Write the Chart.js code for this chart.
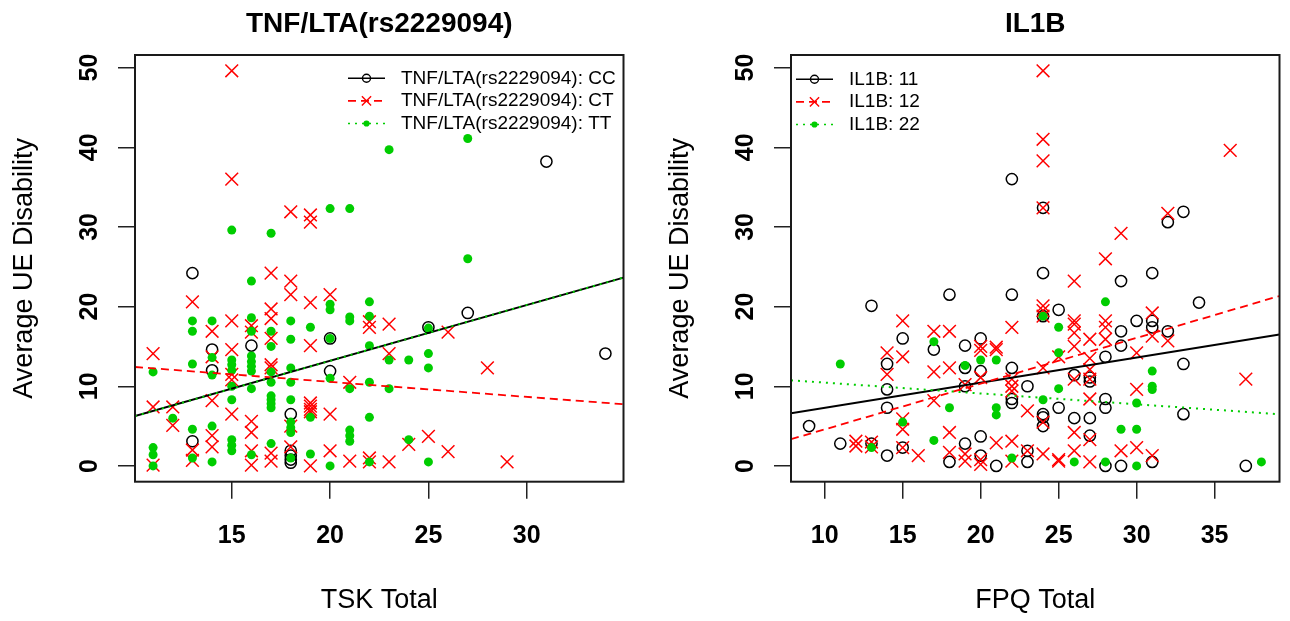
<!DOCTYPE html>
<html><head><meta charset="utf-8">
<script src="https://cdn.jsdelivr.net/npm/chart.js@4.4.0/dist/chart.umd.min.js"></script>
<style>
html,body{margin:0;padding:0;background:#fff;}
#wrap{position:relative;width:1290px;height:621px;overflow:hidden;background:#fff;}
canvas{position:absolute;top:0;}
</style></head><body>
<div id="wrap">
<canvas id="c1" width="634" height="621" style="left:0;width:634px;height:621px"></canvas>
<canvas id="c2" width="634" height="621" style="left:656px;width:634px;height:621px"></canvas>
</div>
<script>
// ---------- Left panel: TNF/LTA(rs2229094) ----------
const tskTitle = 'TNF/LTA(rs2229094)';
const tskXLabel = 'TSK Total';
const tskLegend = ['TNF/LTA(rs2229094): CC', 'TNF/LTA(rs2229094): CT', 'TNF/LTA(rs2229094): TT'];
const tskXRange = [10.08, 34.92];
const tskXTicks = [15, 20, 25, 30];

const tskCC_x = [13,13,14,14,16,18,18,18,18,18,20,20,25,27,31,34];
const tskCC_y = [24.2,3.1,14.6,12.0,15.1,6.5,1.9,1.3,0.8,0.4,16.0,11.9,17.4,19.2,38.2,14.1];

const tskCT_x = [11,11,11, 12,12, 13,13,13, 14,14,14,14,14, 15,15,15,15,15,15,15, 16,16,16,16,16,16,
  17,17,17,17,17,17,17,17, 18,18,18,18,18, 19,19,19,19,19,19,19,19,19, 20,20,20, 21,21, 22,22,22,22,
  23,23,23, 24, 25, 26,26, 28, 29];
const tskCT_y = [14.1,7.4,0.1, 7.4,5.1, 20.6,2.0,0.7, 16.9,13.7,8.2,3.8,2.4, 49.6,36.0,18.2,14.6,11.5,10.8,6.5,
  17.6,16.8,5.6,4.2,1.9,0.1, 24.2,19.7,18.5,16.0,12.7,12.3,1.6,0.6, 31.9,23.2,21.5,5.0,2.4,
  31.5,30.6,20.5,15.1,7.9,7.5,7.1,6.8,0.0, 21.5,6.5,1.9, 10.5,0.6, 18.1,17.4,1.0,0.5,
  17.8,14.1,0.5, 2.7, 3.7, 16.8,1.8, 12.3, 0.5];

const tskTT_x = [11,11,11,11, 12, 13,13,13,13,13, 14,14,14,14,14, 15,15,15,15,15,15,15,15,15,
  16,16,16,16,16,16,16,16,16, 17,17,17,17,17,17,17,17,17,17, 18,18,18,18,18,18,18,18,18,
  19,19,19, 20,20,20,20,20,20, 21,21,21,21,21,21,21, 22,22,22,22,22,22, 23,23,23, 24,24,
  25,25,25,25, 27,27];
const tskTT_y = [11.8,2.3,1.4,0.0, 6.0, 18.2,16.9,12.8,4.6,1.0, 18.2,13.6,11.4,5.0,0.5,
  29.6,13.3,12.7,12.0,10.0,8.3,3.3,2.6,1.9, 23.2,18.6,16.9,13.8,13.1,12.5,11.9,9.7,1.4,
  29.2,16.9,15.0,11.8,10.5,8.8,8.3,7.8,7.3,2.8, 18.2,15.9,12.3,10.5,8.3,5.5,4.8,4.2,1.0,
  17.4,6.1,1.5, 32.3,20.3,19.6,16.0,11.0,0.0, 32.3,18.7,18.2,9.7,4.5,3.8,3.1,
  20.6,18.8,15.1,10.5,6.1,0.5, 39.7,13.3,9.7, 13.3,3.3, 17.3,14.1,12.3,0.5, 41.1,26.0];

// fitted lines, read at the two plot edges
const tskFitX  = [10.08, 34.92];
const tskFitCC = [6.25, 23.64];
const tskFitCT = [12.42, 7.74];
const tskFitTT = [6.25, 23.64];

// ---------- Right panel: IL1B ----------
const ilbTitle = 'IL1B';
const ilbXLabel = 'FPQ Total';
const ilbLegend = ['IL1B: 11', 'IL1B: 12', 'IL1B: 22'];
const ilbXRange = [7.84, 39.16];
const ilbXTicks = [10, 15, 20, 25, 30, 35];

const ilb11_x = [9, 11, 13,13, 14,14,14,14, 15,15, 17, 18,18, 19,19,19,19, 20,20,20,20, 21,
  22,22,22,22,22, 23,23,23, 24,24,24,24,24,24, 25,25, 26,26, 27,27,27,27, 28,28,28,28,
  29,29,29,29, 30, 31,31,31,31, 32,32, 33,33,33, 34, 37];
const ilb11_y = [5.0, 2.8, 20.1,2.8, 12.8,9.6,7.3,1.3, 16.0,2.3, 14.6, 21.5,0.5, 15.1,12.3,10.0,2.8,
  16.0,11.9,3.7,1.3, 0.0, 36.0,21.5,12.3,8.4,7.9, 10.0,1.9,0.5, 32.4,24.2,18.8,6.5,6.1,5.0,
  19.6,7.3, 11.4,6.0, 11.1,10.6,6.0,3.8, 13.7,8.4,7.3,0.0, 23.2,16.9,15.1,0.0, 18.2,
  24.2,18.2,17.4,0.5, 30.6,16.9, 31.9,12.8,6.5, 20.5, 0.0];

const ilb12_x = [12,12, 13,13, 14,14, 15,15,15,15,15, 16, 17,17,17, 18,18,18,18, 19,19,19,
  20,20,20,20,20, 21,21,21, 22,22,22,22,22,22, 23,23, 24,24,24,24,24,24,24,24,24,24,
  25,25,25, 26,26,26,26,26,26,26,26, 27,27,27,27,27,27,27, 28,28,28,28, 29,29, 30,30,30,
  31,31,31, 32,32, 36, 37];
const ilb12_y = [3.1,2.5, 3.0,2.4, 14.2,11.5, 18.2,13.7,5.9,4.6,2.3, 1.3, 16.9,11.8,8.2,
  16.9,12.3,4.2,1.7, 10.2,1.5,0.6, 15.0,14.5,11.1,0.8,0.2, 14.9,14.6,2.9,
  17.4,10.9,10.0,9.4,3.1,0.6, 6.9,1.9, 49.6,41.0,38.3,32.4,20.1,19.5,18.8,12.3,5.5,1.5,
  13.7,0.8,0.6, 23.2,18.2,17.8,16.7,15.0,10.9,4.2,1.9, 15.9,13.5,12.1,10.9,8.4,3.3,0.5,
  26.0,18.2,17.4,15.9, 29.2,1.9, 14.2,9.6,2.3, 19.2,16.3,1.3, 31.7,15.7, 39.6, 10.9];

const ilb22_x = [11, 13, 15, 17,17, 18, 19, 20, 21,21,21, 22, 24,24, 25,25,25, 26, 28,28, 29,
  30,30,30, 31,31,31, 38];
const ilb22_y = [12.8, 2.3, 5.5, 15.6,3.2, 7.3, 12.6, 13.3, 13.3,7.3,6.4, 1.0, 18.8,8.3,
  17.4,14.2,9.7, 0.5, 20.6,0.5, 4.6, 7.9,4.6,0.0, 11.9,10.0,9.6, 0.5];

const ilbFitX  = [7.84, 39.16];
const ilbFit11 = [6.61, 16.49];
const ilbFit12 = [3.35, 21.33];
const ilbFit22 = [10.75, 6.49];

// ---------- shared y axis ----------
const yLabel = 'Average UE Disability';
const yRange = [-1.98, 51.58];
const yTicks = [0, 10, 20, 30, 40, 50];

// ---------- styling ----------
const FONT = '"Liberation Sans", Arial, Helvetica, sans-serif';
const BLACK = '#000000', RED = '#FF0000', GREEN = '#00CD00';
Chart.defaults.font.family = FONT;
Chart.defaults.color = '#000';

const pts = (xs, ys) => xs.map((x, i) => ({x: x, y: ys[i]}));

function pointSet(xs, ys, kind, order) {
  const base = {type: 'scatter', data: pts(xs, ys), order: order, showLine: false};
  if (kind === 'O') return Object.assign(base, {pointStyle: 'circle', pointRadius: 5.6,
    pointBorderColor: BLACK, pointBackgroundColor: 'rgba(0,0,0,0)', pointBorderWidth: 1.5});
  if (kind === 'X') return Object.assign(base, {pointStyle: 'crossRot', pointRadius: 9,
    pointBorderColor: RED, pointBackgroundColor: RED, pointBorderWidth: 1.5});
  return Object.assign(base, {pointStyle: 'circle', pointRadius: 4.5,
    pointBorderColor: GREEN, pointBackgroundColor: GREEN, pointBorderWidth: 0});
}
function lineSet(xs, ys, color, dash, width, order) {
  return {type: 'line', data: pts(xs, ys), order: order, borderColor: color, borderWidth: width,
    borderDash: dash, pointRadius: 0, fill: false, tension: 0, showLine: true};
}

const STY = [
  {color: BLACK, dash: [], width: 2, marker: 'O'},
  {color: RED, dash: [8, 5], width: 1.8, marker: 'X'},
  {color: GREEN, dash: [2, 5], width: 2, marker: 'dot'}
];

function drawMarker(ctx, kind, x, y, color) {
  ctx.save();
  ctx.setLineDash([]);
  if (kind === 'O') {
    ctx.strokeStyle = color; ctx.lineWidth = 1.4;
    ctx.beginPath(); ctx.arc(x, y, 4, 0, Math.PI * 2); ctx.stroke();
  } else if (kind === 'X') {
    const d = 4.6;
    ctx.strokeStyle = color; ctx.lineWidth = 1.4;
    ctx.beginPath(); ctx.moveTo(x - d, y - d); ctx.lineTo(x + d, y + d);
    ctx.moveTo(x + d, y - d); ctx.lineTo(x - d, y + d); ctx.stroke();
  } else {
    ctx.fillStyle = color;
    ctx.beginPath(); ctx.arc(x, y, 3.1, 0, Math.PI * 2); ctx.fill();
  }
  ctx.restore();
}

const decoPlugin = {
  id: 'deco',
  afterDraw(chart, args, opts) {
    const ctx = chart.ctx, a = chart.chartArea;
    ctx.save();
    ctx.strokeStyle = '#1a1a1a'; ctx.lineWidth = 2; ctx.setLineDash([]);
    ctx.strokeRect(a.left, a.top, a.right - a.left, a.bottom - a.top);
    const x0 = a.left + opts.dx, y0 = a.top + opts.dy;
    ctx.font = '19px ' + FONT;
    ctx.textBaseline = 'middle'; ctx.textAlign = 'left';
    opts.labels.forEach((lab, i) => {
      const s = STY[i];
      const y = y0 + i * opts.step;
      ctx.save();
      ctx.strokeStyle = s.color; ctx.lineWidth = 1.6; ctx.setLineDash(s.dash);
      ctx.beginPath(); ctx.moveTo(x0, y); ctx.lineTo(x0 + 37, y); ctx.stroke();
      ctx.restore();
      drawMarker(ctx, s.marker, x0 + 18.5, y, s.color);
      ctx.fillStyle = '#000';
      ctx.fillText(lab, x0 + 53, y);
    });
    ctx.restore();
  }
};

function makePanel(canvas, cfg) {
  const datasets = [
    lineSet(cfg.fitX, cfg.fits[2], STY[2].color, STY[2].dash, STY[2].width, 0),
    lineSet(cfg.fitX, cfg.fits[1], STY[1].color, STY[1].dash, STY[1].width, 1),
    lineSet(cfg.fitX, cfg.fits[0], STY[0].color, STY[0].dash, STY[0].width, 2),
    pointSet(cfg.groups[2][0], cfg.groups[2][1], 'dot', 3),
    pointSet(cfg.groups[1][0], cfg.groups[1][1], 'X', 4),
    pointSet(cfg.groups[0][0], cfg.groups[0][1], 'O', 5)
  ];
  return new Chart(canvas, {
    type: 'scatter',
    data: {datasets: datasets},
    options: {
      responsive: false, animation: false, devicePixelRatio: 1,
      events: [],
      layout: {padding: {left: 0, right: 7.3, top: 0, bottom: 0}},
      plugins: {
        legend: {display: false},
        tooltip: {enabled: false},
        title: {display: true, text: cfg.title, fullSize: false, color: '#000',
          font: {family: FONT, size: 28, weight: 'bold', lineHeight: 1.2},
          padding: {top: 7.6, bottom: 13.8}},
        deco: {labels: cfg.legend, dx: cfg.legDx, dy: cfg.legDy, step: 22.6}
      },
      scales: {
        x: {
          type: 'linear', position: 'bottom', min: cfg.xRange[0], max: cfg.xRange[1],
          afterBuildTicks: s => { s.ticks = cfg.xTicks.map(v => ({value: v})); },
          afterFit: s => { s.height = 139.3; },
          grid: {display: true, drawOnChartArea: false, drawTicks: true, tickLength: 17,
            color: '#222', lineWidth: 1.5},
          border: {display: false},
          ticks: {autoSkip: false, maxRotation: 0, minRotation: 0, padding: 22.8, color: '#000',
            font: {family: FONT, size: 25, weight: 'bold', lineHeight: 1.2},
            callback: v => String(v)},
          title: {display: true, text: cfg.xLabel, color: '#000',
            font: {family: FONT, size: 27, lineHeight: 1.2}, padding: {top: 0, bottom: 3.8}}
        },
        y: {
          type: 'linear', position: 'left', min: yRange[0], max: yRange[1],
          afterBuildTicks: s => { s.ticks = yTicks.map(v => ({value: v})); },
          afterFit: s => { s.width = 135; },
          grid: {display: true, drawOnChartArea: false, drawTicks: true, tickLength: 17,
            color: '#222', lineWidth: 1.5},
          border: {display: false},
          ticks: {autoSkip: false, minRotation: 90, maxRotation: 90, crossAlign: 'center',
            padding: 14.1, color: '#000',
            font: {family: FONT, size: 25, weight: 'bold', lineHeight: 1.2},
            callback: v => String(v)},
          title: {display: true, text: yLabel, color: '#000',
            font: {family: FONT, size: 27, lineHeight: 1.2}, padding: {top: 8, bottom: 0}}
        }
      }
    },
    plugins: [decoPlugin]
  });
}

makePanel(document.getElementById('c1'), {
  title: tskTitle, xLabel: tskXLabel, legend: tskLegend, xRange: tskXRange, xTicks: tskXTicks,
  groups: [[tskCC_x, tskCC_y], [tskCT_x, tskCT_y], [tskTT_x, tskTT_y]],
  fitX: tskFitX, fits: [tskFitCC, tskFitCT, tskFitTT],
  legDx: 213, legDy: 23.3
});
makePanel(document.getElementById('c2'), {
  title: ilbTitle, xLabel: ilbXLabel, legend: ilbLegend, xRange: ilbXRange, xTicks: ilbXTicks,
  groups: [[ilb11_x, ilb11_y], [ilb12_x, ilb12_y], [ilb22_x, ilb22_y]],
  fitX: ilbFitX, fits: [ilbFit11, ilbFit12, ilbFit22],
  legDx: 5, legDy: 24.3
});
</script>
</body></html>
